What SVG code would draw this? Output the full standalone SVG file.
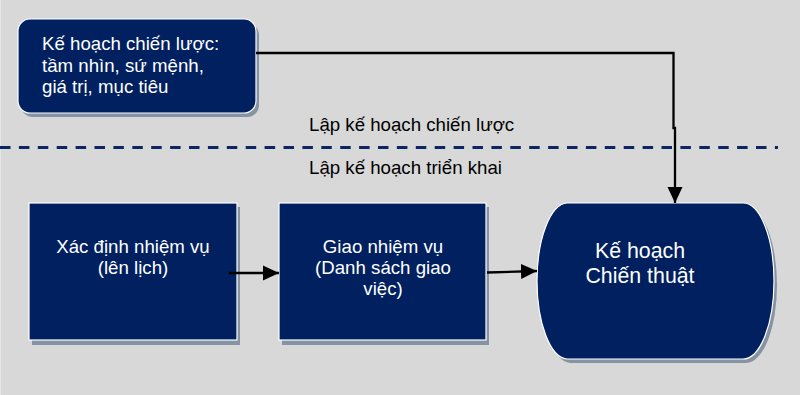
<svg xmlns="http://www.w3.org/2000/svg" width="800" height="395" viewBox="0 0 800 395">
  <defs>
    <marker id="arrow" markerUnits="userSpaceOnUse" markerWidth="16" markerHeight="16" viewBox="0 0 16 16" refX="16" refY="8" orient="auto">
      <path d="M0,0.5 L16,8 L0,15.5 Z" fill="#000"/>
    </marker>
  </defs>
  <style>
    .node { fill: #00205f; stroke: #ffffff; stroke-width: 1.2; }
    .shadow { fill: #8593a4; }
    .label { font-family: "Liberation Sans", Arial, sans-serif; font-size: 18.67px; fill: #ffffff; }
    .big { font-size: 21.33px; }
    .band { font-family: "Liberation Sans", Arial, sans-serif; font-size: 18.67px; fill: #000000; }
    .wire { fill: none; stroke: #000; stroke-width: 2.3; }
  </style>

  <!-- canvas -->
  <rect x="0" y="0" width="800" height="395" fill="#d8d8d8"/>
  <line x1="0.5" y1="0" x2="0.5" y2="395" stroke="#e6e6e6" stroke-width="1"/>

  <!-- divider between the two planning levels -->
  <line x1="0" y1="147.5" x2="778" y2="147.5" stroke="#0c2563" stroke-width="3" stroke-dasharray="10.5 8.4"/>
  <text class="band" x="309" y="130.5">Lập kế hoạch chiến lược</text>
  <text class="band" x="309" y="173.5">Lập kế hoạch triển khai</text>

  <!-- strategic plan -->
  <g id="strategic-plan">
    <rect class="shadow" x="21" y="23" width="238" height="94" rx="12"/>
    <rect class="node" x="18" y="19" width="238" height="94" rx="12"/>
    <text class="label" x="42" y="50">Kế hoạch chiến lược:</text>
    <text class="label" x="42" y="72">tầm nhìn, sứ mệnh,</text>
    <text class="label" x="42" y="93">giá trị, mục tiêu</text>
  </g>

  <!-- define tasks -->
  <g id="define-tasks">
    <rect class="shadow" x="32" y="207" width="208" height="138"/>
    <rect class="node" x="29" y="203" width="208" height="137"/>
    <text class="label" x="133" y="253" text-anchor="middle">Xác định nhiệm vụ</text>
    <text class="label" x="133" y="274" text-anchor="middle">(lên lịch)</text>
  </g>

  <!-- assign tasks -->
  <g id="assign-tasks">
    <rect class="shadow" x="282" y="207" width="207" height="138"/>
    <rect class="node" x="279" y="203" width="207" height="137"/>
    <text class="label" x="383" y="253" text-anchor="middle">Giao nhiệm vụ</text>
    <text class="label" x="383" y="274" text-anchor="middle">(Danh sách giao</text>
    <text class="label" x="383" y="295" text-anchor="middle">việc)</text>
  </g>

  <!-- tactical plan -->
  <g id="tactical-plan">
    <path class="shadow" d="M570,207 H746 A31,78 0 0 1 777,285 A31,78 0 0 1 746,363 H570 A31,78 0 0 1 540,285 A31,78 0 0 1 570,207 Z"/>
    <path class="node" d="M567,203 H743 A31,78 0 0 1 774,281 A31,78 0 0 1 743,359 H567 A31,78 0 0 1 537,281 A31,78 0 0 1 567,203 Z"/>
    <text class="label big" x="640" y="258" text-anchor="middle">Kế hoạch</text>
    <text class="label big" x="640" y="283" text-anchor="middle">Chiến thuật</text>
  </g>

  <!-- connectors, drawn over the nodes -->
  <g id="connectors">
    <path class="wire" d="M256,53 H673.5 V128 H675 V203" marker-end="url(#arrow)"/>
    <path class="wire" d="M229,273 H279" marker-end="url(#arrow)"/>
    <path class="wire" d="M487,272.5 L537,271" marker-end="url(#arrow)"/>
  </g>
</svg>
